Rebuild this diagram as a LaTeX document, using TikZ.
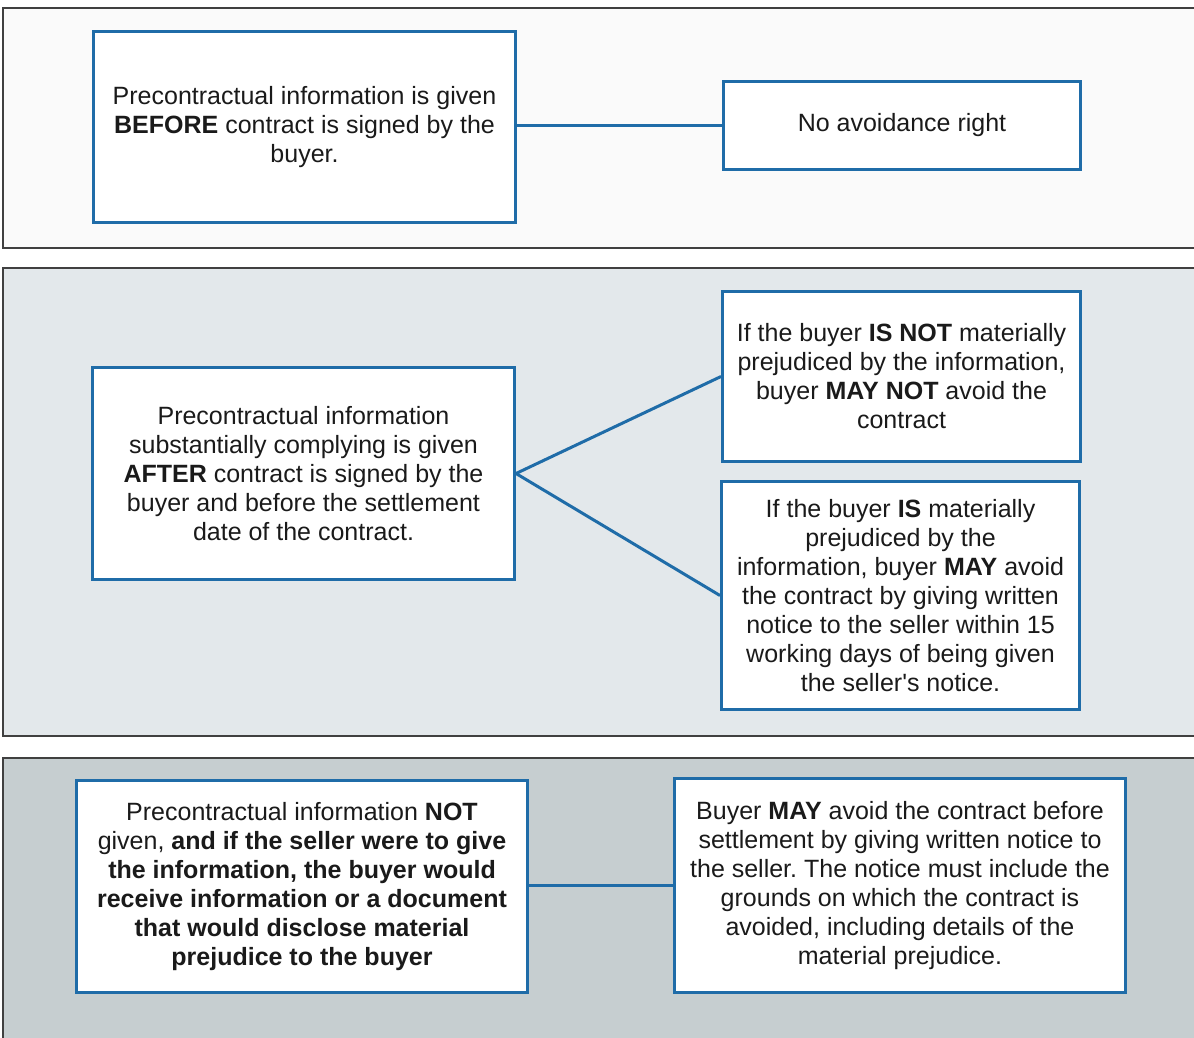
\documentclass[tikz,border=0pt]{standalone}
\usepackage{fontspec}
\setmainfont{Liberation Sans}
\frenchspacing
\definecolor{boxblue}{HTML}{1F6CA8}
\definecolor{panelA}{HTML}{FAFAFA}
\definecolor{panelB}{HTML}{E3E8EB}
\definecolor{panelC}{HTML}{C6CED0}
\definecolor{txt}{HTML}{1A1A1A}
\begin{document}
\begin{tikzpicture}[x=1pt,y=-1pt,
  box/.style={draw=boxblue, line width=3pt, fill=white, align=center, inner sep=0pt,
              text=txt, font=\fontsize{25}{29}\selectfont},
  link/.style={draw=boxblue, line width=3pt},
  panel/.style={draw=black!75, line width=1.2pt}]
\clip (0,0) rectangle (1194,1037);
\path[fill=white] (0,0) rectangle (1194,1037);
% panels
\path[panel, fill=panelA] (3,8) rectangle (1220,248);
\path[panel, fill=panelB] (3,268) rectangle (1220,736);
\path[panel, fill=panelC] (3,758) rectangle (1220,1060);
% panel 1
\node[box, minimum width=422pt, minimum height=191pt] (b1) at (304.5,127)
  {Precontractual information is given\\ \textbf{BEFORE} contract is signed by the\\ buyer.};
\node[box, minimum width=357pt, minimum height=88pt] (b2) at (902,125.5)
  {No avoidance right};
\draw[link] (b1.east |- b2.west) -- (b2.west);
% panel 2
\node[box, minimum width=422pt, minimum height=212pt] (b3) at (303.5,473.5)
  {Precontractual information\\ substantially complying is given\\ \textbf{AFTER} contract is signed by the\\ buyer and before the settlement\\ date of the contract.};
\node[box, minimum width=358pt, minimum height=170pt] (b4) at (901.5,376.5)
  {If the buyer \textbf{IS NOT} materially\\ prejudiced by the information,\\ buyer \textbf{MAY NOT} avoid the\\ contract};
\node[box, minimum width=358pt, minimum height=228pt] (b5) at (900.5,595.5)
  {If the buyer \textbf{IS} materially\\ prejudiced by the\\ information, buyer \textbf{MAY} avoid\\ the contract by giving written\\ notice to the seller within 15\\ working days of being given\\ the seller\textquotesingle s notice.};
\draw[link] (b3.east) -- (b4.west);
\draw[link] (b3.east) -- (b5.west);
% panel 3
\node[box, minimum width=451pt, minimum height=212pt] (b6) at (302,886.5)
  {Precontractual information \textbf{NOT}\\ given, \textbf{and if the seller were to give}\\ \textbf{the information, the buyer would}\\ \textbf{receive information or a document}\\ \textbf{that would disclose material}\\ \textbf{prejudice to the buyer}};
\node[box, minimum width=451pt, minimum height=214pt] (b7) at (900,885.5)
  {Buyer \textbf{MAY} avoid the contract before\\ settlement by giving written notice to\\ the seller. The notice must include the\\ grounds on which the contract is\\ avoided, including details of the\\ material prejudice.};
\draw[link] (b6.east |- b7.west) -- (b7.west);
\end{tikzpicture}
\end{document}
